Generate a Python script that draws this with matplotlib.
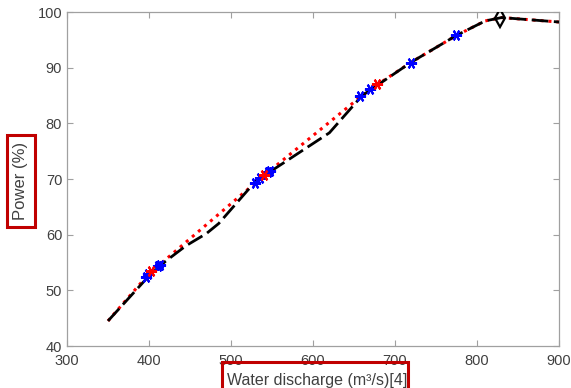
import matplotlib
matplotlib.use('Agg')
import matplotlib.pyplot as plt
from matplotlib.patches import Rectangle

plt.rcParams['font.family'] = ['Liberation Sans', 'DejaVu Sans']

# black dashed curve (discharge, power)
q_black = [350, 400, 420, 445, 470, 485, 530, 620, 660, 680, 720, 775, 810, 830, 900]
p_black = [44.5, 52.6, 55.2, 58.0, 60.2, 62.0, 69.6, 78.3, 85.0, 87.0, 91.0, 95.8, 98.4, 99.0, 98.2]

# red dotted curve
q_red = [350, 400, 420, 540, 660, 680, 720, 775, 810, 830, 900]
p_red = [44.5, 53.0, 55.5, 70.6, 85.0, 87.1, 91.0, 95.8, 98.4, 99.0, 98.2]

# blue star markers
q_blue = [396, 399, 411, 413, 529, 535, 545, 548, 657, 670, 720, 774]
p_blue = [52.4, 52.9, 54.4, 54.6, 69.3, 70.1, 71.3, 71.5, 84.9, 86.1, 90.9, 95.8]

# red star markers
q_rstar = [403, 540, 678]
p_rstar = [53.5, 70.8, 87.1]

# optimum point
q_opt = [828]
p_opt = [98.9]

fig = plt.figure(figsize=(5.71, 3.88), dpi=100)
ax = fig.add_axes([67 / 571, 1 - 346 / 388, 492 / 571, 334 / 388])

ax.plot(q_red, p_red, color='red', linestyle=(0, (1, 1.6)), lw=2.2, zorder=2)
ax.plot(q_black, p_black, color='black', linestyle=(0, (6, 2)), lw=2, zorder=3)
ax.plot(q_blue, p_blue, linestyle='none', marker=(6, 2, 90), color='blue',
        ms=8, mew=1.5, zorder=4)
ax.plot(q_rstar, p_rstar, linestyle='none', marker=(6, 2, 90), color='red',
        ms=8, mew=1.5, zorder=4)
ax.plot(q_opt, p_opt, linestyle='none', marker='d', color='black', mfc='none',
        ms=9, mew=1.6, zorder=5)

ax.set_xlim(300, 900)
ax.set_ylim(40, 100)
ax.set_xticks(range(300, 901, 100))
ax.set_yticks(range(40, 101, 10))
ax.tick_params(direction='in', top=True, right=True, length=4, width=0.8,
               color='#a0a0a0', labelcolor='#404040', labelsize=10.5)
ax.tick_params(axis='x', pad=6)
for s in ax.spines.values():
    s.set_color('#a0a0a0')
    s.set_linewidth(0.9)

fig.text(227 / 571, 1 - 380 / 388, 'Water discharge (m\u00b3/s)[4]', fontsize=11.5,
         color='#404040', ha='left', va='center')
fig.text(21 / 571, 1 - 181 / 388, 'Power (%)', fontsize=12, color='#404040',
         rotation=90, ha='center', va='center')

# red highlight boxes around axis labels
fig.patches.append(Rectangle((222 / 571, -0.05), 186 / 571, 0.05 + 1 - 362 / 388,
                             transform=fig.transFigure, fill=False, ec='#c00000', lw=2.2))
fig.patches.append(Rectangle((7 / 571, 1 - 227 / 388), 28 / 571, 92 / 388,
                             transform=fig.transFigure, fill=False, ec='#c00000', lw=2.2))

fig.savefig('out.png', dpi=100)
